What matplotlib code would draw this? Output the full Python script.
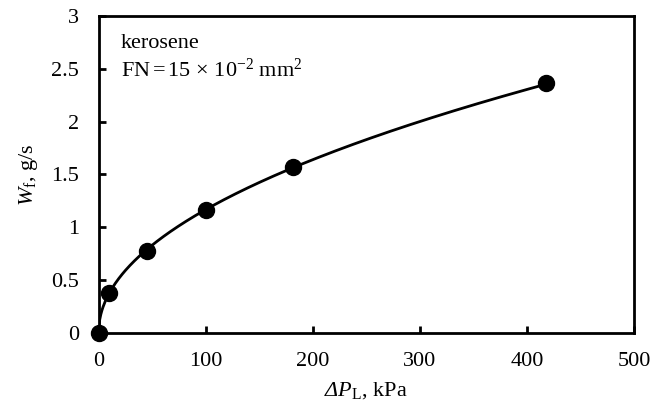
import numpy as np
import matplotlib.pyplot as plt

plt.rcParams['font.family'] = 'Liberation Serif'
plt.rcParams['mathtext.fontset'] = 'custom'
plt.rcParams['mathtext.rm'] = 'Liberation Serif'
plt.rcParams['mathtext.it'] = 'Liberation Serif:italic'
plt.rcParams['mathtext.sf'] = 'Liberation Serif:italic'  # italic Greek capitals

# measured points
dp = [0, 10, 45, 100, 182, 418]          # kPa
wf = [0, 0.38, 0.78, 1.16, 1.57, 2.37]   # g/s

# power-law trend line fitted to the measured points
x_fit = np.array(dp[1:], dtype=float)
y_fit = np.array(wf[1:], dtype=float)
b, log_a = np.polyfit(np.log(x_fit), np.log(y_fit), 1)
xs = np.linspace(0, max(dp), 400)
ys = np.exp(log_a) * xs ** b

fig = plt.figure(figsize=(6.66, 4.12), dpi=100)
ax = fig.add_axes([0.148, 0.192, 0.804, 0.769])

ax.plot(xs, ys, color='black', lw=2, zorder=2)
ax.plot(dp, wf, 'o', color='black', ms=11.5, zorder=3, clip_on=False)

ax.set_xlim(0, 500)
ax.set_ylim(0, 3)
ax.set_xticks([0, 100, 200, 300, 400, 500])
ax.set_yticks([0, 0.5, 1, 1.5, 2, 2.5, 3])
ax.set_yticklabels(['0', '0.5', '1', '1.5', '2', '2.5', '3'])
ax.tick_params(direction='in', length=5, width=2, labelsize=16)
ax.tick_params(axis='x', pad=14)
ax.tick_params(axis='y', pad=14)
for s in ax.spines.values():
    s.set_linewidth(2)

ax.set_xlabel(r'$\mathsf{ΔP}_{\mathrm{L}}$, kPa', fontsize=16, labelpad=6)
ax.set_ylabel(r'$\mathit{W}_{\mathrm{f}}$, g/s', fontsize=16, labelpad=8)

ax.text(0.042, 0.9, 'kerosene', transform=ax.transAxes, fontsize=16, va='baseline')
ax.text(0.042, 0.808, r'FN$\,$=$\,$15$\,\times\,$10$^{-2}$ mm$^2$',
        transform=ax.transAxes, fontsize=16, va='baseline')

fig.savefig('out.png', dpi=100)
